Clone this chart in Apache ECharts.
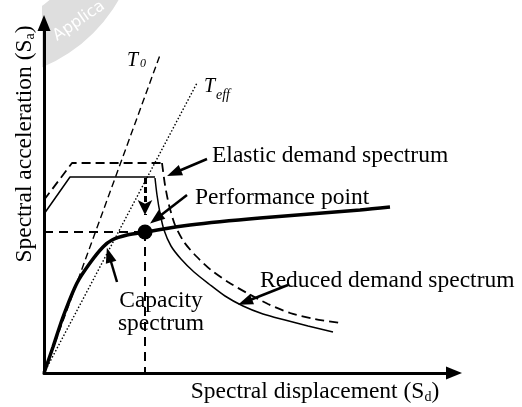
<!DOCTYPE html>
<html>
<head>
<meta charset="utf-8">
<script src="https://cdn.jsdelivr.net/npm/echarts@6/dist/echarts.min.js"></script>
<style>
  html, body { margin: 0; padding: 0; background: #fff; }
  #chart { width: 522px; height: 407px; }
</style>
</head>
<body>
<div id="chart"></div>
<script>
// curves, [Sd, Sa] in arbitrary units
const capacity = [[0, 0], [9, 26], [19, 56], [33, 90], [46, 110], [59, 126], [68, 133], [83, 138], [101, 141], [146, 148], [216, 155], [316, 163], [346, 166]];
const elasticPlateau = [[0, 173], [28, 210], [118, 210]];
const elasticTail = [[118, 210], [121, 188], [125, 168], [131, 148], [140, 131], [152, 117], [167, 103], [184, 91], [203, 80], [224, 69], [246, 60], [271, 54], [296, 50]];
const reducedPlateau = [[0, 159], [26, 196], [111, 196]];
const reducedTail = [[111, 195], [113, 178], [116, 160], [120, 143], [127, 127], [137, 114], [150, 101], [165, 89], [181, 77], [199, 67], [219, 59], [241, 53], [264, 47], [289, 41]];
const periodT0 = [[0, 0], [116, 318]];
const periodTeff = [[0, 0], [153, 290]];
const perfPoint = [101, 141];

// annotation arrows: [start, head]
const arrowElastic = [[163, 214], [130, 200]];
const arrowPerf = [[143, 178], [112, 154]];
const arrowCapacity = [[73, 91], [65, 118]];
const arrowReduced = [[244, 88], [201, 71]];
const arrowDrop = [[101, 195], [101, 158]];

const serif = '"Liberation Serif", "Times New Roman", serif';
const black = '#000';

const chart = echarts.init(document.getElementById('chart'));

function curve(data, width, type, smooth) {
  return {
    type: 'line',
    data: data,
    symbol: 'none',
    smooth: smooth || false,
    lineStyle: { color: black, width: width, type: type },
    z: 3
  };
}

function label(text, x, y, size, align, extra) {
  return Object.assign({
    type: 'text',
    x: x,
    y: y,
    z: 10,
    style: {
      text: text,
      font: size + 'px ' + serif,
      fill: black,
      align: align || 'left',
      verticalAlign: 'middle'
    }
  }, extra || {});
}

const option = {
  animation: false,
  backgroundColor: '#fff',
  grid: { left: 44, right: 68, top: 23, bottom: 34 },
  xAxis: {
    type: 'value',
    min: 0,
    max: 410,
    axisLine: { show: true, symbol: ['none', 'triangle'], symbolSize: [13, 16], lineStyle: { color: black, width: 3 } },
    axisTick: { show: false },
    axisLabel: { show: false },
    splitLine: { show: false }
  },
  yAxis: {
    type: 'value',
    min: 0,
    max: 350,
    axisLine: { show: true, symbol: ['none', 'triangle'], symbolSize: [13, 16], lineStyle: { color: black, width: 3 } },
    axisTick: { show: false },
    axisLabel: { show: false },
    splitLine: { show: false }
  },
  series: [
    curve(periodT0, 1.4, [7, 4]),
    curve(periodTeff, 1.4, [1.5, 2]),
    curve(elasticPlateau, 1.8, [9, 5]),
    curve(elasticTail, 1.8, [9, 5], 0.25),
    curve(reducedPlateau, 1.5, 'solid'),
    curve(reducedTail, 1.5, 'solid', 0.25),
    curve([[0, perfPoint[1]], perfPoint], 2, [9, 6]),
    curve([perfPoint, [perfPoint[0], 0]], 2, [9, 6]),
    curve(capacity, 3.5, 'solid', 0.3),
    {
      type: 'lines',
      coordinateSystem: 'cartesian2d',
      symbol: ['none', 'triangle'],
      symbolSize: [0, [11, 15]],
      lineStyle: { color: black, width: 2.5, opacity: 1, curveness: 0 },
      data: [arrowElastic, arrowPerf, arrowCapacity, arrowReduced].map(c => ({ coords: c })),
      z: 5
    },
    {
      type: 'lines',
      coordinateSystem: 'cartesian2d',
      symbol: ['none', 'arrow'],
      symbolSize: [0, [11, 15]],
      lineStyle: { color: black, width: 3, opacity: 1, type: [6, 3] },
      data: [{ coords: arrowDrop }],
      z: 5
    },
    {
      type: 'scatter',
      data: [perfPoint],
      symbol: 'circle',
      symbolSize: 15,
      itemStyle: { color: black, opacity: 1 },
      z: 6
    }
  ],
  graphic: [
    // watermark from the source page
    { type: 'ring', shape: { cx: -20, cy: -80, r: 160, r0: 106 }, style: { fill: '#dedede' }, z: -10, silent: true },
    { type: 'rect', shape: { x: 0, y: 0, width: 42, height: 90 }, style: { fill: '#fff' }, z: -9, silent: true },
    { type: 'text', x: 79, y: 21, rotation: 0.6, z: -8, silent: true,
      style: { text: 'Applica', font: '16px "DejaVu Sans", sans-serif', fill: '#fff', align: 'center', verticalAlign: 'middle' } },

    label('Spectral acceleration (S{sub|a})', 25, 144, 23.5, 'center', {
      rotation: Math.PI / 2,
      style: {
        text: 'Spectral acceleration (S{sub|a})', font: '23.5px ' + serif, fill: black,
        align: 'center', verticalAlign: 'middle',
        rich: { sub: { font: '14px ' + serif, verticalAlign: 'bottom' } }
      }
    }),
    label('Spectral displacement (S{sub|d})', 315, 392, 23.5, 'center', {
      style: {
        text: 'Spectral displacement (S{sub|d})', font: '23.5px ' + serif, fill: black,
        align: 'center', verticalAlign: 'middle',
        rich: { sub: { font: '14px ' + serif, verticalAlign: 'bottom' } }
      }
    }),
    label('Elastic demand spectrum', 212, 156, 23.5),
    label('Performance point', 195, 198, 23.5),
    label('Reduced demand spectrum', 260, 281, 23.5),
    label('Capacity', 161, 301, 23.5, 'center'),
    label('spectrum', 161, 324, 23.5, 'center'),

    { type: 'text', x: 127, y: 60.5, z: 10, style: { text: 'T', font: 'italic 20px ' + serif, fill: black, verticalAlign: 'middle' } },
    { type: 'text', x: 140, y: 64, z: 10, style: { text: '0', font: 'italic 12px ' + serif, fill: black, verticalAlign: 'middle' } },
    { type: 'text', x: 204, y: 87, z: 10, style: { text: 'T', font: 'italic 20px ' + serif, fill: black, verticalAlign: 'middle' } },
    { type: 'text', x: 216, y: 95, z: 10, style: { text: 'eff', font: 'italic 14px ' + serif, fill: black, verticalAlign: 'middle' } }
  ]
};

chart.setOption(option);
</script>
</body>
</html>
